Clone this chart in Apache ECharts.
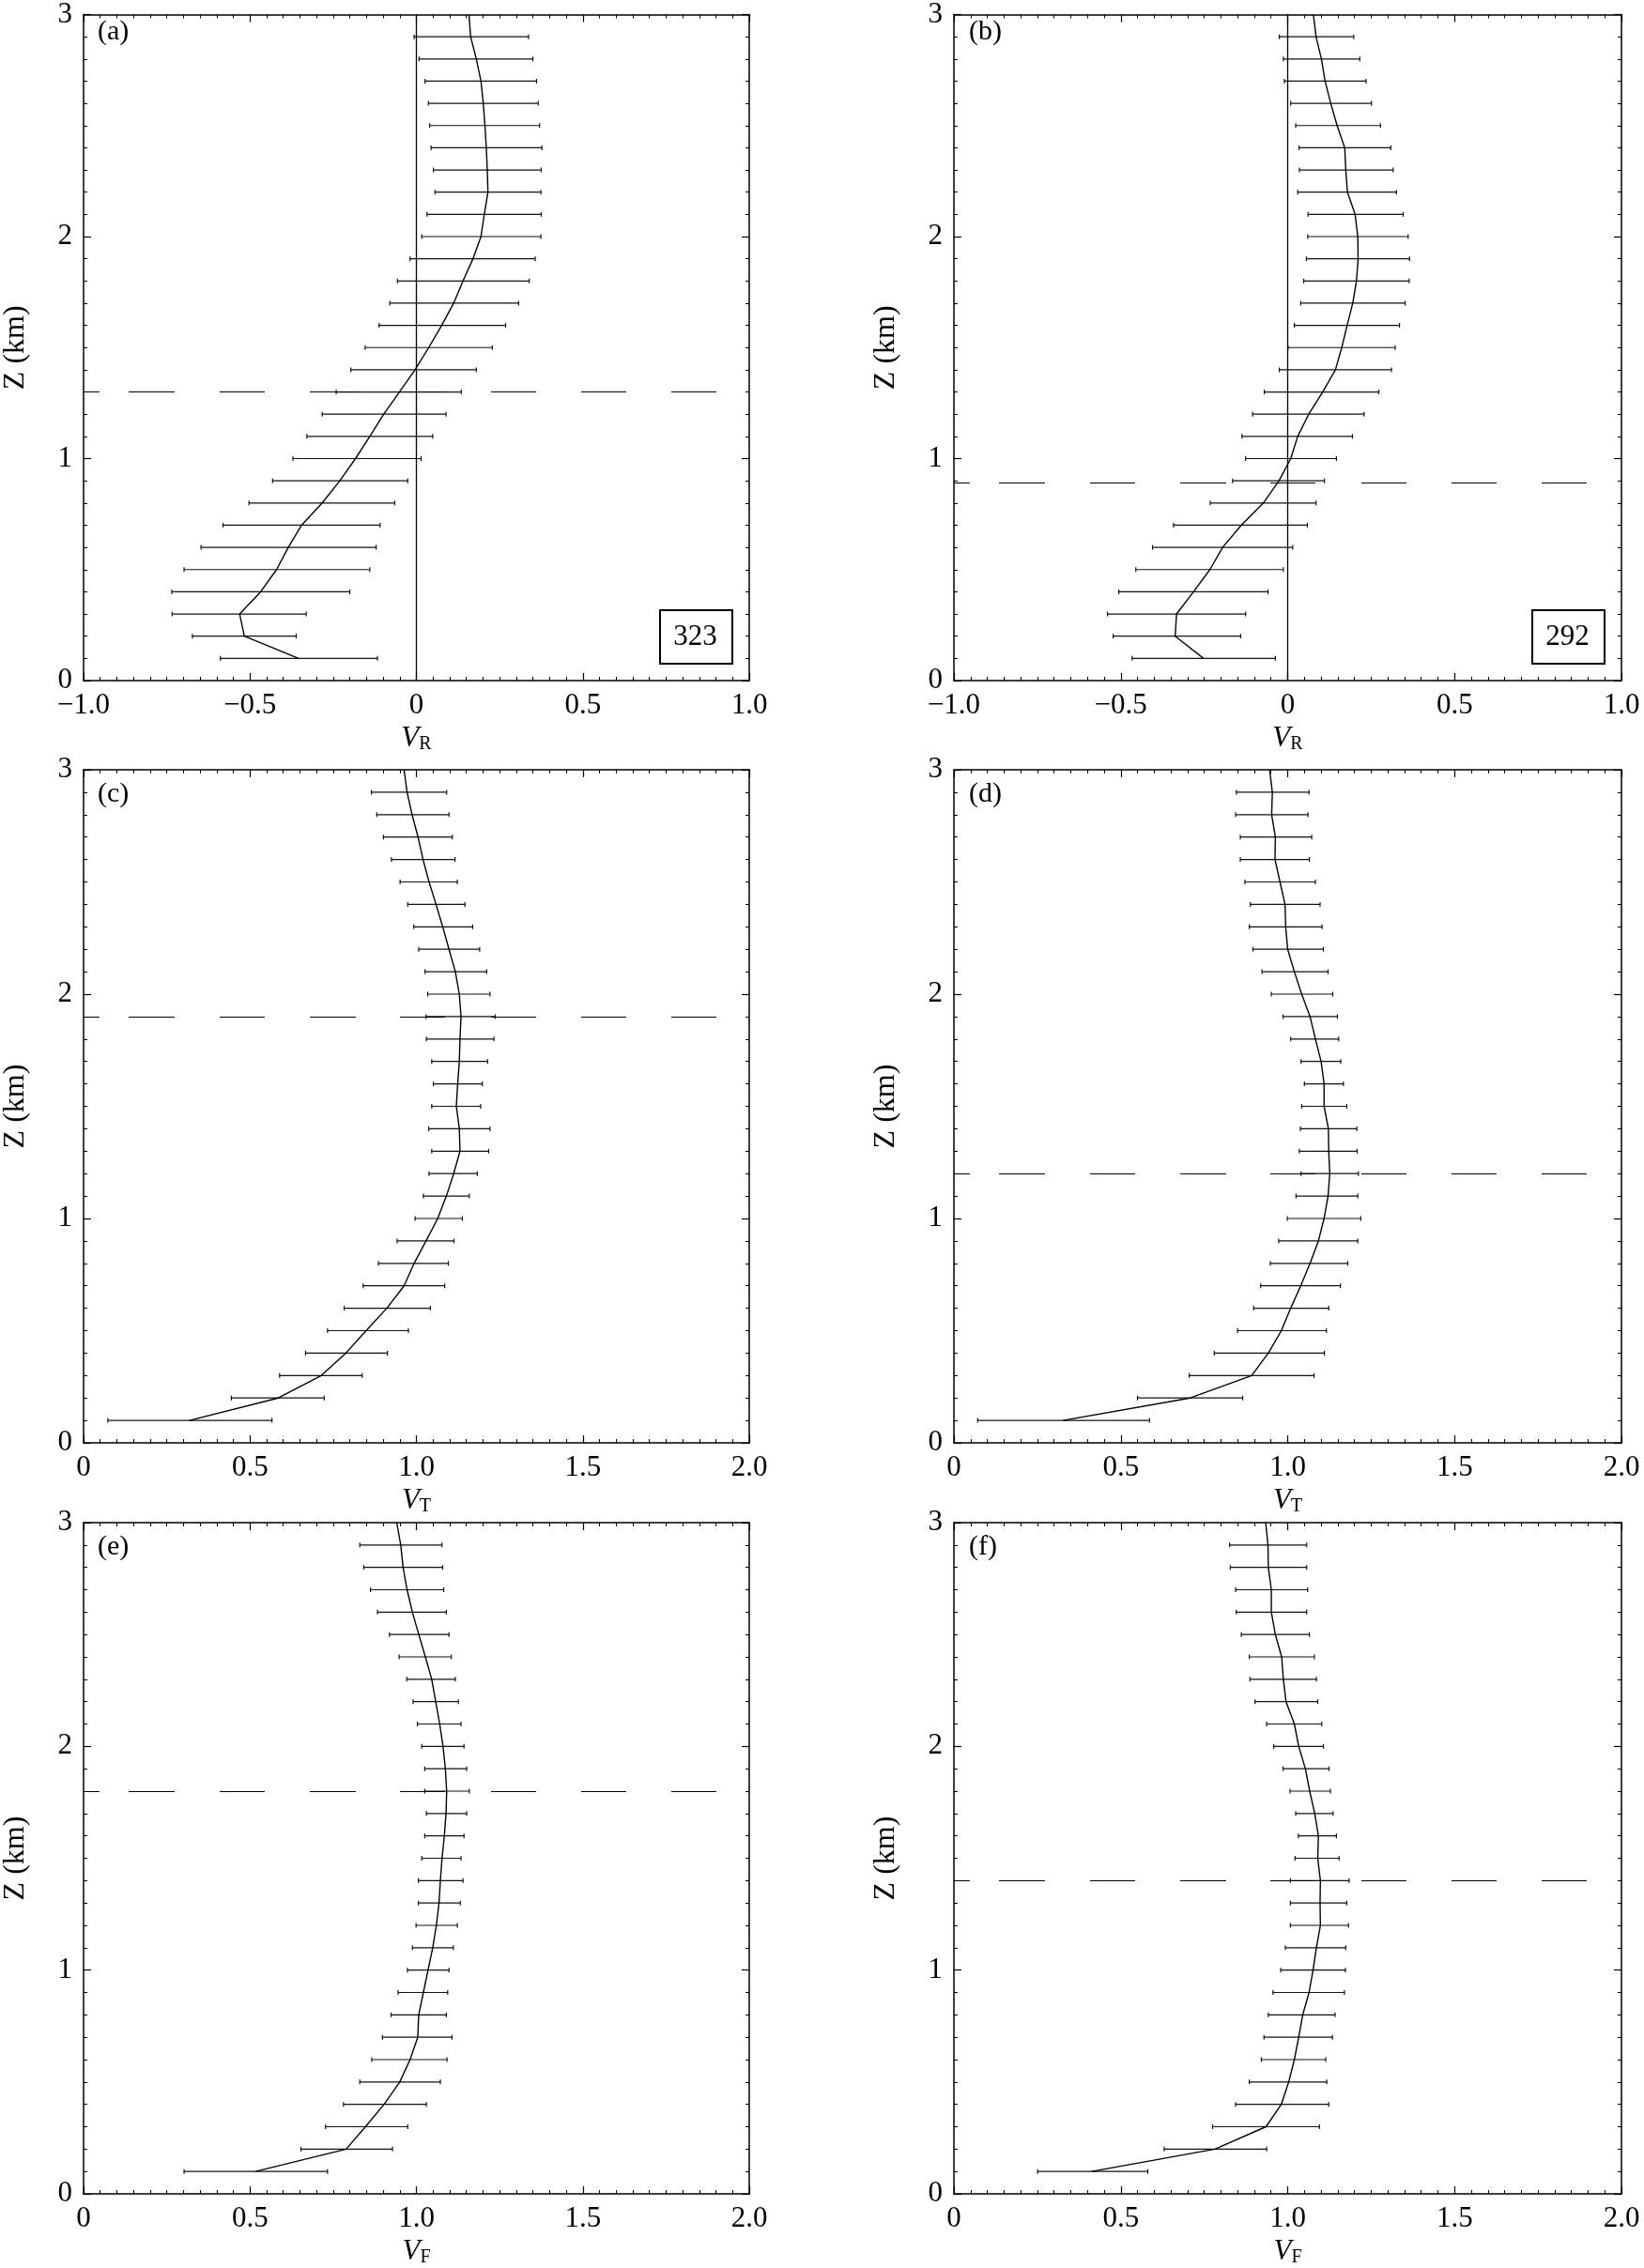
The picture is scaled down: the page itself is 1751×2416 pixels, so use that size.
<!DOCTYPE html>
<html>
<head>
<meta charset="utf-8">
<script src="https://cdn.jsdelivr.net/npm/echarts@6/dist/echarts.min.js"></script>
<style>
html,body{margin:0;padding:0;background:#fff;}
#chart{width:1751px;height:2416px;}
</style>
</head>
<body>
<div id="chart"></div>
<script>
// Heights (km) of the profile levels
const levels = [0.1,0.2,0.3,0.4,0.5,0.6,0.7,0.8,0.9,1.0,1.1,1.2,1.3,1.4,1.5,1.6,1.7,1.8,1.9,2.0,2.1,2.2,2.3,2.4,2.5,2.6,2.7,2.8,2.9,3.0];
const barLevels = [0.1,0.2,0.3,0.4,0.5,0.6,0.7,0.8,0.9,1.0,1.1,1.2,1.3,1.4,1.5,1.6,1.7,1.8,1.9,2.0,2.1,2.2,2.3,2.4,2.5,2.6,2.7,2.8,2.9];

// (a) V_R, 323 cases
const aMean = [-0.354,-0.517,-0.531,-0.468,-0.420,-0.385,-0.345,-0.283,-0.230,-0.183,-0.140,-0.098,-0.051,-0.004,0.037,0.076,0.112,0.140,0.170,0.194,0.204,0.215,0.213,0.210,0.206,0.201,0.194,0.180,0.163,0.158];
const aLow  = [-0.589,-0.673,-0.734,-0.735,-0.698,-0.647,-0.581,-0.503,-0.432,-0.371,-0.329,-0.283,-0.241,-0.197,-0.154,-0.112,-0.080,-0.057,-0.019,0.016,0.032,0.056,0.051,0.044,0.040,0.036,0.026,0.008,-0.007];
const aHigh = [-0.117,-0.361,-0.331,-0.200,-0.140,-0.121,-0.109,-0.065,-0.026,0.014,0.049,0.089,0.135,0.180,0.228,0.268,0.307,0.339,0.357,0.374,0.375,0.374,0.375,0.377,0.370,0.366,0.361,0.350,0.337];

// (b) V_R, 292 cases
const bMean = [-0.252,-0.337,-0.333,-0.282,-0.233,-0.195,-0.139,-0.073,-0.026,0.009,0.030,0.063,0.105,0.143,0.162,0.178,0.195,0.206,0.211,0.210,0.202,0.179,0.174,0.171,0.148,0.129,0.112,0.101,0.085,0.077];
const bLow  = [-0.466,-0.523,-0.540,-0.506,-0.455,-0.405,-0.342,-0.232,-0.165,-0.126,-0.137,-0.105,-0.070,-0.025,0.001,0.020,0.039,0.048,0.056,0.060,0.061,0.030,0.035,0.034,0.024,0.009,-0.010,-0.013,-0.025];
const bHigh = [-0.037,-0.141,-0.126,-0.059,-0.013,0.015,0.059,0.085,0.110,0.146,0.194,0.229,0.273,0.311,0.322,0.335,0.352,0.364,0.365,0.361,0.346,0.326,0.316,0.309,0.278,0.251,0.235,0.216,0.198];

// (c) V_T
const cMean = [0.318,0.585,0.714,0.788,0.849,0.911,0.963,0.993,1.029,1.064,1.090,1.112,1.131,1.129,1.120,1.124,1.129,1.131,1.134,1.129,1.117,1.098,1.079,1.059,1.038,1.020,1.005,0.987,0.972,0.963];
const cLow  = [0.073,0.444,0.589,0.667,0.733,0.783,0.840,0.886,0.942,0.996,1.021,1.038,1.046,1.037,1.046,1.051,1.046,1.030,1.029,1.034,1.026,1.007,0.992,0.974,0.951,0.925,0.901,0.881,0.865];
const cHigh = [0.566,0.723,0.837,0.913,0.976,1.042,1.085,1.096,1.113,1.138,1.159,1.183,1.217,1.221,1.193,1.198,1.214,1.233,1.237,1.221,1.211,1.190,1.169,1.146,1.123,1.116,1.108,1.098,1.091];

// (d) V_T
const dMean = [0.327,0.708,0.892,0.942,0.981,1.009,1.039,1.067,1.092,1.109,1.121,1.126,1.123,1.122,1.109,1.109,1.100,1.083,1.067,1.042,1.020,1.000,0.994,0.992,0.977,0.962,0.963,0.952,0.954,0.946];
const dLow  = [0.071,0.550,0.705,0.780,0.850,0.898,0.919,0.948,0.973,0.999,1.025,1.040,1.035,1.038,1.042,1.050,1.040,1.009,0.986,0.951,0.923,0.896,0.885,0.888,0.872,0.858,0.858,0.844,0.846];
const dHigh = [0.586,0.865,1.079,1.110,1.116,1.123,1.158,1.180,1.210,1.219,1.210,1.212,1.208,1.207,1.177,1.167,1.159,1.153,1.149,1.135,1.121,1.107,1.103,1.097,1.083,1.065,1.072,1.061,1.064];

// (e) V_F
const eMean = [0.517,0.789,0.847,0.903,0.950,0.981,1.004,1.007,1.021,1.035,1.049,1.060,1.068,1.072,1.077,1.084,1.089,1.091,1.087,1.080,1.070,1.058,1.046,1.027,1.007,0.988,0.972,0.960,0.953,0.941];
const eLow  = [0.302,0.653,0.727,0.781,0.830,0.866,0.898,0.924,0.945,0.973,0.988,0.999,1.006,1.006,1.016,1.025,1.030,1.025,1.025,1.016,1.003,0.990,0.971,0.948,0.919,0.883,0.862,0.842,0.830];
const eHigh = [0.733,0.928,0.974,1.030,1.072,1.092,1.107,1.090,1.094,1.098,1.111,1.123,1.132,1.140,1.134,1.143,1.151,1.159,1.151,1.143,1.134,1.126,1.117,1.105,1.098,1.090,1.082,1.079,1.077];

// (f) V_F
const fMean = [0.413,0.782,0.935,0.981,1.003,1.020,1.033,1.045,1.064,1.076,1.086,1.098,1.097,1.098,1.090,1.092,1.081,1.066,1.053,1.033,1.020,0.995,0.987,0.982,0.963,0.951,0.951,0.942,0.941,0.934];
const fLow  = [0.251,0.630,0.775,0.844,0.885,0.921,0.929,0.942,0.956,0.979,0.993,1.008,1.008,1.008,1.022,1.032,1.024,1.007,0.986,0.958,0.937,0.902,0.887,0.885,0.861,0.846,0.844,0.828,0.826];
const fHigh = [0.581,0.937,1.095,1.123,1.117,1.114,1.134,1.142,1.170,1.173,1.174,1.182,1.177,1.184,1.154,1.146,1.136,1.128,1.124,1.107,1.102,1.090,1.086,1.080,1.065,1.057,1.060,1.057,1.057];

// Reference heights (dashed lines) and case counts
const dashHeights = [1.3, 0.89, 1.9, 1.2, 1.8, 1.4];
const panelLetters = ['(a)','(b)','(c)','(d)','(e)','(f)'];
const caseCounts = ['323','292',null,null,null,null];
const xSubscripts = ['R','R','T','T','F','F'];
const xTicksR = {'-1':'\u22121.0','-0.5':'\u22120.5','0':'0','0.5':'0.5','1':'1.0'};
const xTicksP = {'0':'0','0.5':'0.5','1':'1.0','1.5':'1.5','2':'2.0'};
const yTicks = {'0':'0','1':'1','2':'2','3':'3'};

const means = [aMean,bMean,cMean,dMean,eMean,fMean];
const lows = [aLow,bLow,cLow,dLow,eLow,fLow];
const highs = [aHigh,bHigh,cHigh,dHigh,eHigh,fHigh];

// layout
const FONT = "'Liberation Serif','Times New Roman',serif";
const grids = [
  {left:88, top:8, width:710, height:717},
  {left:1016, top:8, width:711, height:717},
  {left:88, top:820, width:710, height:717},
  {left:1016, top:820, width:711, height:717},
  {left:88, top:1622, width:710, height:718},
  {left:1016, top:1622, width:711, height:718}
];
// long-dash pattern of the reference-height line (first short stub, then 48px dashes)
const dashPattern = [17,31,49,48,48,48,49,47,48,49,48,48,48,48,48,48,48,48];

const chart = echarts.init(document.getElementById('chart'), null, {renderer:'canvas'});

const xAxes = [], yAxes = [], series = [], graphics = [];
const axisLineStyle = {color:'#000', width:1.5};
const tickStyle = {color:'#000', width:1.2};
const TICKFS = 31;

function fmt(map){ return function(v){ const k = String(Math.round(v*100)/100); return map[k] !== undefined ? map[k] : ''; }; }

function errRender(params, api){
  const z = api.value(0), lo = api.value(1), hi = api.value(2);
  const p1 = api.coord([lo, z]);
  const p2 = api.coord([hi, z]);
  const h = 2.5;
  const st = {stroke:'#111', lineWidth:1.2};
  return {type:'group', children:[
    {type:'line', shape:{x1:p1[0], y1:p1[1], x2:p2[0], y2:p2[1]}, style:st},
    {type:'line', shape:{x1:p1[0], y1:p1[1]-h, x2:p1[0], y2:p1[1]+h}, style:st},
    {type:'line', shape:{x1:p2[0], y1:p2[1]-h, x2:p2[0], y2:p2[1]+h}, style:st}
  ]};
}

for (let i = 0; i < 6; i++) {
  const isR = i < 2;
  const xmin = isR ? -1 : 0, xmax = isR ? 1 : 2;
  const common = {
    gridIndex:i, type:'value', min:xmin, max:xmax, interval:0.5,
    axisLine:{show:true, onZero:false, lineStyle:axisLineStyle},
    axisTick:{show:true, inside:true, length:8, lineStyle:tickStyle},
    minorTick:{show:true, splitNumber:10, length:4, lineStyle:{color:'#000', width:1}},
    splitLine:{show:false}, minorSplitLine:{show:false}
  };
  xAxes.push(Object.assign({}, common, {
    position:'bottom',
    axisLabel:{show:true, formatter: fmt(isR ? xTicksR : xTicksP), fontFamily:FONT, fontSize:TICKFS, color:'#000', margin:11},
    name:'{v|V}{s|' + xSubscripts[i] + '}',
    nameLocation:'middle', nameGap:46,
    nameTextStyle:{
      rich:{
        v:{fontFamily:FONT, fontStyle:'italic', fontSize:31, lineHeight:32, color:'#000'},
        s:{fontFamily:FONT, fontSize:20, lineHeight:16, verticalAlign:'bottom', color:'#000'}
      }
    }
  }));
  xAxes.push(Object.assign({}, common, {position:'top', axisLabel:{show:false}}));
  const ycommon = {
    gridIndex:i, type:'value', min:0, max:3, interval:1,
    axisLine:{show:true, onZero:false, lineStyle:axisLineStyle},
    axisTick:{show:true, inside:true, length:8, lineStyle:tickStyle},
    minorTick:{show:true, splitNumber:10, length:4, lineStyle:{color:'#000', width:1}},
    splitLine:{show:false}, minorSplitLine:{show:false}
  };
  yAxes.push(Object.assign({}, ycommon, {
    position:'left',
    axisLabel:{show:true, formatter: fmt(yTicks), fontFamily:FONT, fontSize:TICKFS, color:'#000', margin:12},
    name:'Z (km)', nameLocation:'middle', nameGap:56, nameRotate:90,
    nameTextStyle:{fontFamily:FONT, fontSize:32, color:'#000'}
  }));
  yAxes.push(Object.assign({}, ycommon, {position:'right', axisLabel:{show:false}}));

  const mlData = [
    {yAxis: dashHeights[i], lineStyle:{type:dashPattern, dashOffset:0, width:1.2, color:'#000'}}
  ];
  if (isR) mlData.push({xAxis:0, lineStyle:{type:'solid', width:1.3, color:'#000'}});

  series.push({
    type:'custom', xAxisIndex:2*i, yAxisIndex:2*i,
    renderItem: errRender,
    encode:{x:[1,2], y:0},
    data: barLevels.map((z,k) => [z, lows[i][k], highs[i][k]]),
    silent:true, z:2
  });
  series.push({
    type:'line', xAxisIndex:2*i, yAxisIndex:2*i,
    data: levels.map((z,k) => [means[i][k], z]),
    showSymbol:false, symbol:'none',
    lineStyle:{color:'#000', width:1.4},
    silent:true, z:3,
    markLine:{
      symbol:['none','none'], silent:true, label:{show:false},
      animation:false, data: mlData
    }
  });

  const g = grids[i];
  graphics.push({
    type:'text', left:g.left+16, top:g.top+11,
    style:{text:panelLetters[i], font:'30px ' + FONT, fill:'#000'}
  });
  if (caseCounts[i]) {
    const bw = 77, bh = 57;
    const bx = g.left + g.width - 19 - bw, by = g.top + g.height - 19 - bh;
    graphics.push({
      type:'rect', left:bx, top:by,
      shape:{width:bw, height:bh},
      style:{fill:'#fff', stroke:'#000', lineWidth:2}
    });
    graphics.push({
      type:'text', x:bx + bw/2, y:by + bh/2 + 1,
      style:{text:caseCounts[i], font:'31px ' + FONT, fill:'#000', align:'center', verticalAlign:'middle'}
    });
  }
}

chart.setOption({
  backgroundColor:'#fff',
  animation:false,
  grid: grids,
  xAxis: xAxes,
  yAxis: yAxes,
  series: series,
  graphic: graphics
});
</script>
</body>
</html>
